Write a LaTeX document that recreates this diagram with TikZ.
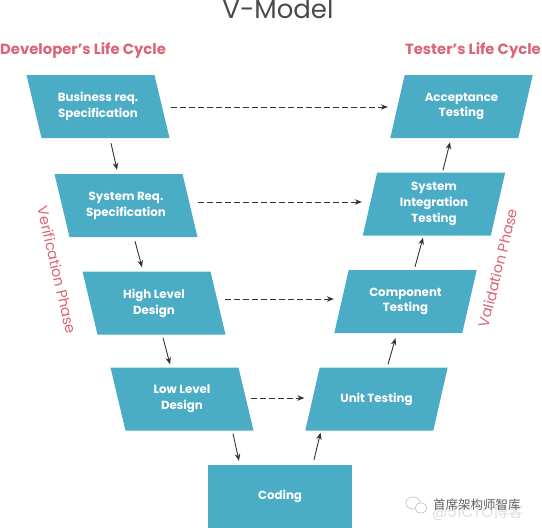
\documentclass[tikz,border=0pt]{standalone}
\usepackage{fontspec}
\setmainfont{Poppins}
\newfontfamily\cjk{Noto Sans CJK SC}
\usetikzlibrary{calc,arrows.meta}
\definecolor{boxblue}{HTML}{4BACC6}
\definecolor{phasered}{RGB}{220,100,118}
\definecolor{titlegray}{HTML}{4A4A4A}
\definecolor{arrowgray}{HTML}{333333}
% name, centre, top shift (negative = top leans left), text
\newcommand\pbox[4]{%
  \fill[boxblue] (#2) ++({-64+(#3)},-31.5) -- ++(128,0) -- ++({-2*(#3)},63) -- ++(-128,0) -- cycle;
  \node[boxtext] (#1) at (#2) {#4};
}
\begin{document}
\begin{tikzpicture}[x=1pt,y=-1pt,
  boxtext/.style={text=white,font=\bfseries\fontsize{11.8}{15.8}\selectfont,align=center,
    minimum width=128pt,minimum height=63pt,inner sep=0pt},
  codebox/.style={boxtext,fill=boxblue,minimum width=144pt},
  solidarr/.style={draw=arrowgray,line width=0.9pt,-{Stealth[length=7pt,width=5.5pt]}},
  dasharr/.style={solidarr,dash pattern=on 5.5pt off 3.5pt},
  phase/.style={text=phasered,font=\fontsize{14.5}{16}\selectfont,inner sep=0pt},
  life/.style={text=phasered,font=\bfseries\fontsize{14.8}{17}\selectfont,inner sep=0pt}]
\useasboundingbox (0,0) rectangle (542,528);
\fill[white] (0,0) rectangle (542,528);

% title and headings
\node[anchor=base,text=titlegray,font=\fontsize{26}{30}\selectfont,inner sep=0pt] (title) at (278,18) {V-Model};
\node[life,anchor=base west] (dev) at (0,54) {Developer's Life Cycle};
\node[life,anchor=base east] (tes) at (541,54) {Tester's Life Cycle};

% left branch
\pbox{b1}{98,106.5}{-7.5}{Business req.\\Specification}
\pbox{b2}{126,205.5}{-7.5}{System Req.\\Specification}
\pbox{b3}{154,303}{-7.5}{High Level\\Design}
\pbox{b4}{182,399}{-7.5}{Low Level\\Design}
% bottom
\node[codebox] (cod) at (280,496.5) {Coding};
% right branch
\pbox{a1}{461.5,106.5}{7.2}{Acceptance\\Testing}
\pbox{a2}{434,204}{7.2}{System\\Integration\\Testing}
\pbox{a3}{405.5,301.5}{7.2}{Component\\Testing}
\pbox{a4}{376.5,399}{7.2}{Unit Testing}

% phase labels
\node[phase,rotate=-77] (ver) at (57,270) {Verification Phase};
\node[phase,rotate=76] (val) at (498,268) {Validation Phase};

% solid flow arrows
\draw[solidarr] ($(b1.south)+(13,5)$) -- ($(b2.north)+(-9,-4)$);
\draw[solidarr] ($(b2.south)+(9,4)$) -- ($(b3.north)+(-12,-4)$);
\draw[solidarr] ($(b3.south)+(9,3)$) -- ($(b4.north)+(-12,-3)$);
\draw[solidarr] ($(b4.south)+(51,3)$) -- ($(cod.north)+(-41,-4)$);
\draw[solidarr] ($(cod.north)+(34,-5)$) -- ($(a4.south)+(-56,2)$);
\draw[solidarr] ($(a4.north)+(11.5,-3)$) -- ($(a3.south)+(-10,5)$);
\draw[solidarr] ($(a3.north)+(9.5,-3)$) -- ($(a2.south)+(-11,2)$);
\draw[solidarr] ($(a2.north)+(9,-2)$) -- ($(a1.south)+(-11.5,4)$);

% dashed correspondence arrows
\draw[dasharr] ($(b1.east)+(9,0.5)$) -- ($(a1.west)+(-9.5,0.5)$);
\draw[dasharr] ($(b2.east)+(8,-3.5)$) -- ($(a2.west)+(-8,-2)$);
\draw[dasharr] ($(b3.east)+(7,-4)$) -- ($(a3.west)+(-7.5,-2.5)$);
\draw[dasharr] ($(b4.east)+(5,-1)$) -- ($(a4.west)+(-8,-1)$);

% watermark
\node[anchor=west,text=black!13,font=\fontsize{15}{15}\selectfont,inner sep=0pt] (wm2) at (432,513) {@51CTO{\cjk 博客}};
\draw[black!25,line width=0.6pt] (413,503) ellipse [x radius=7pt,y radius=6pt];
\draw[black!25,line width=0.6pt,fill=white] (421,508) ellipse [x radius=6pt,y radius=5pt];
\node[anchor=west,text=black!62,font=\cjk\fontsize{12.5}{12.5}\selectfont,inner sep=0pt] (wm) at (433,505) {首席架构师智库};
\end{tikzpicture}
\end{document}
